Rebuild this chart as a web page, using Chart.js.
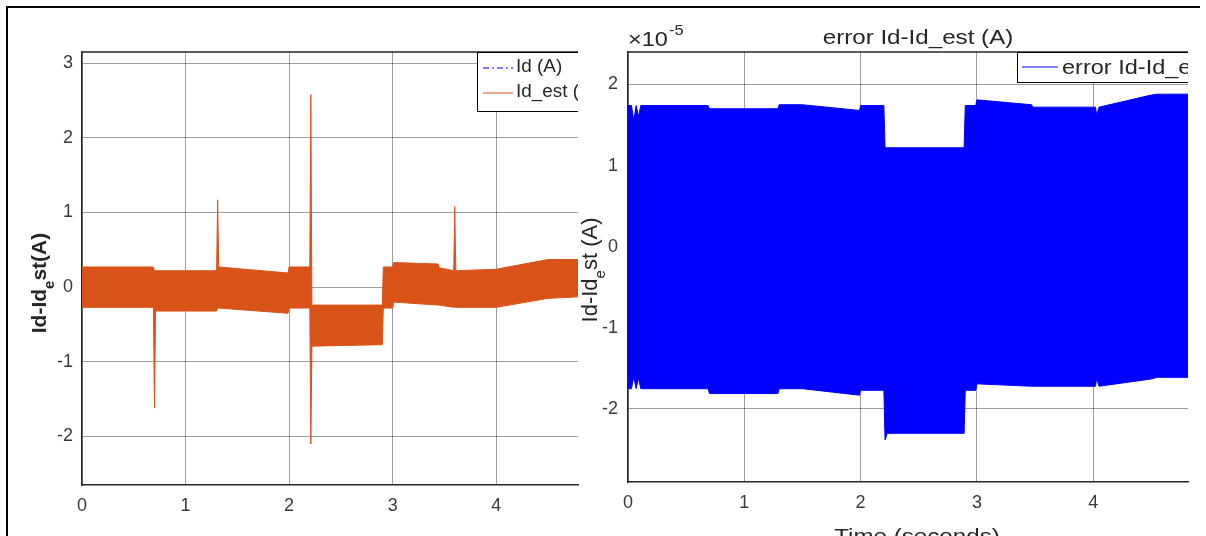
<!DOCTYPE html>
<html>
<head>
<meta charset="utf-8">
<script src="https://cdn.jsdelivr.net/npm/chart.js@4.4.1/dist/chart.umd.min.js"></script>
<style>
  body { margin: 0; background: #fff; }
  #wrap { position: relative; width: 1206px; height: 536px; overflow: hidden; }
  #leftBox { position: absolute; left: 0; top: 0; width: 580px; height: 536px; }
  #rightBox { position: absolute; left: 580px; top: 0; width: 626px; height: 536px; background: #fff; }
</style>
</head>
<body>
<div id="wrap">
  <div id="leftBox"><canvas id="leftChart" width="580" height="536"></canvas></div>
  <div id="rightBox"><canvas id="rightChart" width="626" height="536"></canvas></div>
</div>
<script>
// left plot: envelope of Id_est (A)
var leftTime  = [0, 0.69, 0.70, 0.71, 1.30, 1.31, 1.32, 1.99, 2.00, 2.20, 2.21, 2.22, 2.90, 2.91, 3.00, 3.01, 3.44, 3.45, 3.59, 3.60, 3.61, 4.00, 4.50, 4.79];
var leftUpper = [0.27, 0.27, 0.22, 0.22, 0.22, 1.17, 0.27, 0.19, 0.27, 0.27, 2.58, -0.24, -0.24, 0.27, 0.27, 0.33, 0.31, 0.26, 0.22, 1.08, 0.22, 0.24, 0.37, 0.37];
var leftLower = [-0.27, -0.27, -1.62, -0.32, -0.32, -0.28, -0.28, -0.35, -0.28, -0.28, -2.10, -0.79, -0.77, -0.28, -0.28, -0.20, -0.24, -0.24, -0.27, -0.27, -0.27, -0.27, -0.15, -0.13];
var leftXTicks = [0, 1, 2, 3, 4];
var leftYTicks = [-2, -1, 0, 1, 2, 3];

// right plot: envelope of the error, in units of 1e-5 A
var errTime  = [0, 0.03, 0.05, 0.07, 0.09, 0.11, 0.69, 0.70, 1.29, 1.30, 1.50, 1.99, 2.00, 2.20, 2.21, 2.23, 2.89, 2.90, 2.99, 3.00, 3.47, 3.48, 4.02, 4.03, 4.05, 4.50, 4.55, 4.82];
var errUpper = [1.74, 1.74, 1.55, 1.74, 1.60, 1.74, 1.74, 1.70, 1.70, 1.75, 1.75, 1.68, 1.74, 1.74, 1.22, 1.22, 1.22, 1.74, 1.74, 1.81, 1.75, 1.72, 1.72, 1.62, 1.72, 1.87, 1.88, 1.88];
var errLower = [-1.75, -1.75, -1.60, -1.75, -1.62, -1.75, -1.75, -1.81, -1.81, -1.75, -1.75, -1.83, -1.77, -1.77, -2.38, -2.30, -2.30, -1.77, -1.77, -1.69, -1.72, -1.72, -1.72, -1.62, -1.72, -1.63, -1.61, -1.61];
var errXTicks = [0, 1, 2, 3, 4];
var errYTicks = [-2, -1, 0, 1, 2];

var orange = '#D95319';
var blue = '#0000FF';
var gridColor = 'rgba(0,0,0,0.38)';
var axisColor = '#262626';
var tickColor = '#3a3a3a';
var font = '"Liberation Sans", Arial, Helvetica, sans-serif';

function pts(t, v) {
    return t.map(function (x, i) { return { x: x, y: v[i] }; });
}

function fixTicks(list) {
    return function (scale) {
        scale.ticks = list.map(function (v) { return { value: v }; });
    };
}

// text a bit wider than the font, the screenshot is stretched sideways
function wideText(ctx, txt, x, y, size, align, sx) {
    ctx.save();
    ctx.font = size + 'px ' + font;
    ctx.textAlign = 'left';
    var w = ctx.measureText(txt).width * sx;
    var x0 = align === 'center' ? x - w / 2 : x;
    ctx.translate(x0, y);
    ctx.scale(sx, 1);
    ctx.fillText(txt, 0, 0);
    ctx.restore();
    return w;
}

// rotated label with a subscript part, like matlab does with "_e"
function drawSubLabel(ctx, x, y, main1, sub, main2, size, weight) {
    ctx.save();
    ctx.translate(x, y);
    ctx.rotate(-Math.PI / 2);
    ctx.fillStyle = '#262626';
    ctx.textBaseline = 'alphabetic';
    ctx.textAlign = 'left';
    var big = weight + ' ' + size + 'px ' + font;
    var small = weight + ' ' + Math.round(size * 0.7) + 'px ' + font;
    ctx.font = big;
    var w1 = ctx.measureText(main1).width;
    var w3 = ctx.measureText(main2).width;
    ctx.font = small;
    var w2 = ctx.measureText(sub).width;
    var x0 = -(w1 + w2 + w3) / 2;
    ctx.font = big;
    ctx.fillText(main1, x0, 0);
    ctx.font = small;
    ctx.fillText(sub, x0 + w1, size * 0.38);
    ctx.font = big;
    ctx.fillText(main2, x0 + w1 + w2, 0);
    ctx.restore();
}

function scaleOpts(min, max, ticks, fitFn, pad) {
    return {
        type: 'linear',
        min: min,
        max: max,
        afterBuildTicks: fixTicks(ticks),
        afterFit: fitFn,
        grid: { color: gridColor, lineWidth: 1, drawTicks: false },
        border: { color: axisColor, width: 1.5 },
        ticks: { color: tickColor, font: { family: font, size: 18 }, padding: pad, maxRotation: 0, autoSkip: false }
    };
}

var leftDeco = {
    id: 'leftDeco',
    afterDraw: function (chart) {
        var ctx = chart.ctx, a = chart.chartArea;
        ctx.save();
        // frame of the screenshot
        ctx.strokeStyle = '#000';
        ctx.lineWidth = 2;
        ctx.beginPath();
        ctx.moveTo(7, 536); ctx.lineTo(7, 7); ctx.lineTo(580, 7);
        ctx.stroke();
        // top of axes box
        ctx.strokeStyle = axisColor;
        ctx.lineWidth = 1.5;
        ctx.beginPath();
        ctx.moveTo(a.left, a.top); ctx.lineTo(a.right, a.top);
        ctx.stroke();

        // legend, cut at the axes edge
        ctx.save();
        ctx.beginPath();
        ctx.rect(0, 0, a.right, 536);
        ctx.clip();
        var ds = chart.data.datasets;
        ctx.fillStyle = '#fff';
        ctx.fillRect(477, 52, 200, 60);
        ctx.strokeStyle = '#000';
        ctx.lineWidth = 1;
        ctx.strokeRect(477.5, 52.5, 200, 59);
        var rows = [[ds[0], 68], [ds[1], 93]];
        rows.forEach(function (r) {
            ctx.strokeStyle = r[0].borderColor;
            ctx.setLineDash(r[0].borderDash || []);
            ctx.beginPath();
            ctx.moveTo(483, r[1]); ctx.lineTo(513, r[1]);
            ctx.stroke();
            ctx.setLineDash([]);
            ctx.fillStyle = '#262626';
            ctx.textBaseline = 'middle';
            wideText(ctx, r[0].label, 516, r[1] - 1, 18, 'left', 1.05);
        });
        ctx.restore();

        drawSubLabel(ctx, 46, 283, 'Id-Id', 'e', 'st(A)', 21, 'bold');
        ctx.restore();
    }
};

var rightDeco = {
    id: 'rightDeco',
    afterDraw: function (chart) {
        var ctx = chart.ctx, a = chart.chartArea;
        ctx.save();
        ctx.strokeStyle = '#000';
        ctx.lineWidth = 2;
        ctx.beginPath();
        ctx.moveTo(0, 7); ctx.lineTo(620, 7);
        ctx.stroke();
        ctx.strokeStyle = axisColor;
        ctx.lineWidth = 1.5;
        ctx.beginPath();
        ctx.moveTo(a.left, a.top); ctx.lineTo(a.right, a.top);
        ctx.stroke();

        // title, axis label and exponent
        ctx.fillStyle = '#262626';
        ctx.textBaseline = 'alphabetic';
        wideText(ctx, 'error Id-Id_est (A)', 338, 44, 21, 'center', 1.15);
        wideText(ctx, 'Time (seconds)', 337, 543, 21, 'center', 1.15);
        var wx = wideText(ctx, '\u00d710', 48, 46, 21, 'left', 1.12);
        wideText(ctx, '-5', 48 + wx + 1, 35, 15, 'left', 1.1);

        // legend
        ctx.save();
        ctx.beginPath();
        ctx.rect(0, 0, a.right, 536);
        ctx.clip();
        var d = chart.data.datasets[0];
        ctx.fillStyle = '#fff';
        ctx.fillRect(437, 52, 300, 31);
        ctx.strokeStyle = '#000';
        ctx.lineWidth = 1;
        ctx.strokeRect(437.5, 52.5, 300, 30);
        ctx.strokeStyle = d.borderColor;
        ctx.beginPath();
        ctx.moveTo(442, 67); ctx.lineTo(478, 67);
        ctx.stroke();
        ctx.fillStyle = '#262626';
        ctx.textBaseline = 'middle';
        wideText(ctx, d.label, 482, 68, 21, 'left', 1.12);
        ctx.restore();

        drawSubLabel(ctx, 17, 270, 'Id-Id', 'e', 'st (A)', 22, 'normal');
        ctx.restore();
    }
};

new Chart(document.getElementById('leftChart'), {
    type: 'line',
    data: {
        datasets: [
            { label: 'Id (A)', data: [], borderColor: blue, borderDash: [6, 3, 2, 3], borderWidth: 1, pointRadius: 0, fill: false },
            { label: 'Id_est (A)', data: pts(leftTime, leftUpper), borderColor: orange, backgroundColor: orange, borderWidth: 1, pointRadius: 0, tension: 0, fill: '+1' },
            { label: 'Id_est low', data: pts(leftTime, leftLower), borderColor: orange, borderWidth: 1, pointRadius: 0, tension: 0, fill: false }
        ]
    },
    options: {
        responsive: false,
        animation: false,
        layout: { padding: { left: 0, top: 52, right: 2, bottom: 0 } },
        plugins: { legend: { display: false }, tooltip: { enabled: false } },
        scales: {
            x: scaleOpts(0, 4.79, leftXTicks, function (s) { s.height = 51; }, 10),
            y: scaleOpts(-2.65, 3.15, leftYTicks, function (s) { s.width = 82; }, 9)
        }
    },
    plugins: [leftDeco]
});

new Chart(document.getElementById('rightChart'), {
    type: 'line',
    data: {
        datasets: [
            { label: 'error Id-Id_est (A)', data: pts(errTime, errUpper), borderColor: blue, backgroundColor: blue, borderWidth: 1, pointRadius: 0, tension: 0, fill: '+1' },
            { label: 'error low', data: pts(errTime, errLower), borderColor: blue, borderWidth: 1, pointRadius: 0, tension: 0, fill: false }
        ]
    },
    options: {
        responsive: false,
        animation: false,
        layout: { padding: { left: 0, top: 52, right: 18, bottom: 0 } },
        plugins: { legend: { display: false }, tooltip: { enabled: false } },
        scales: {
            x: scaleOpts(0, 4.815, errXTicks, function (s) { s.height = 54; }, 10),
            y: scaleOpts(-2.9, 2.4, errYTicks, function (s) { s.width = 48; }, 10)
        }
    },
    plugins: [rightDeco]
});
</script>
</body>
</html>
